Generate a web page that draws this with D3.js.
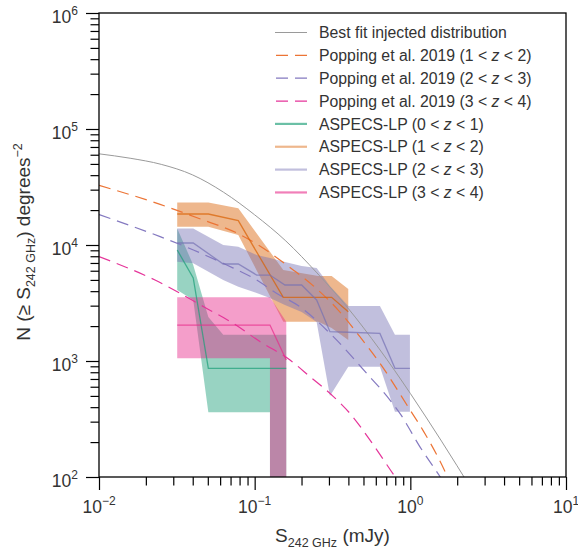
<!DOCTYPE html>
<html><head><meta charset="utf-8">
<script src="https://cdn.jsdelivr.net/npm/d3@7"></script>
<style>
body{margin:0;background:#fff}
svg{display:block}
text{font-family:"Liberation Sans",Arial,Helvetica,sans-serif;fill:#333}
</style>
</head><body>
<svg id="chart" width="578" height="551"></svg>
<script>
// ---------------- data ----------------
const xTickVals = [1e-2, 1e-1, 1e0, 1e1];
const xTickExp = ["\u22122", "\u22121", "0", "1"];
const yTickVals = [1e2, 1e3, 1e4, 1e5, 1e6];
const yTickExp = ["2", "3", "4", "5", "6"];

// Best fit injected distribution
const bestFitS = [0.0100, 0.01585, 0.02512, 0.03981, 0.0631, 0.100, 0.1585, 0.2512, 0.3981, 0.631, 1.000, 1.585, 2.512];
const bestFitN = [61100, 55980, 49550, 40270, 28510, 18200, 10840, 5750, 2850, 1274, 525, 204, 76];

// Popping et al. 2019
const pop12S = [0.01, 0.0247, 0.0435, 0.0805, 0.108, 0.161, 0.25, 0.344, 0.474, 0.647, 0.994, 1.211, 1.71, 1.9];
const pop12N = [32700, 22400, 17000, 12300, 9800, 6700, 4200, 2750, 1620, 930, 380, 250, 104, 75];
const pop23S = [0.01, 0.0247, 0.0404, 0.0661, 0.103, 0.138, 0.195, 0.320, 0.524, 0.740, 0.857, 1.153, 1.549, 1.75];
const pop23N = [18300, 11800, 9060, 6730, 4990, 3840, 2940, 1620, 783, 461, 354, 182, 101, 78];
const pop34S = [0.01, 0.0229, 0.0492, 0.0729, 0.1081, 0.1687, 0.2265, 0.3126, 0.409, 0.551, 0.796, 0.9];
const pop34N = [7940, 4990, 2840, 2110, 1470, 1020, 733, 509, 354, 208, 101, 80];

// ASPECS-LP bands (upper / median / lower)
const asp01S   = [0.0318, 0.0403, 0.0504, 0.0628, 0.1254, 0.1254, 0.1596];
const asp01Hi  = [13900, 6730, 2400, 1680, 1680, 1680, 1680];
const asp01Mid = [9060, 5200, 865, 865, 865, 865, 865];
const asp01Lo  = [4090, 3360, 361, 361, 361, 0, 0];

const asp12S   = [0.0318, 0.0504, 0.0785, 0.1527, 0.2562, 0.3122, 0.3993];
const asp12Hi  = [23200, 23200, 20700, 6090, 5400, 5400, 4180];
const asp12Mid = [18500, 18500, 16200, 3540, 3540, 3540, 2660];
const asp12Lo  = [14400, 14400, 12200, 2180, 2180, 1930, 1520];

const asp23S   = [0.0318, 0.0403, 0.0628, 0.0785, 0.1030, 0.1254, 0.1565, 0.2004, 0.2501, 0.3045, 0.3993, 0.6377, 0.7963, 0.994];
const asp23Hi  = [13900, 13900, 10000, 9670, 8200, 7730, 7140, 6590, 6340, 4430, 2980, 2980, 1680, 1680];
const asp23Mid = [10400, 10400, 6860, 6860, 5510, 5510, 4520, 4520, 3360, 1790, 1770, 1730, 865, 865];
const asp23Lo  = [7180, 6960, 4990, 4370, 3860, 3490, 3040, 2650, 2170, 499, 893, 893, 366, 366];

const asp34S   = [0.0318, 0.1254, 0.1254, 0.1596];
const asp34Hi  = [3540, 3540, 3540, 2180];
const asp34Mid = [2040, 2040, 2040, 1020];
const asp34Lo  = [1055, 1055, 0, 0];

const colGreen = "#1b9e77", colOrange = "#d95f02", colPurple = "#7570b3", colPink = "#e7298a";

// ---------------- layout ----------------
const svg = d3.select("#chart");
const L = 99, R = 566, T = 13, B = 477;
const x = d3.scaleLog().domain([1e-2, 1e1]).range([L, R]);
const y = d3.scaleLog().domain([1e2, 1e6]).range([B, T]);
const yv = v => y(Math.max(v, 1));

svg.append("defs").append("clipPath").attr("id", "clip")
  .append("rect").attr("x", L).attr("y", T).attr("width", R - L).attr("height", B - T);
const plot = svg.append("g").attr("clip-path", "url(#clip)");

const zip = (s, a, b, c) => s.map((v, i) => ({s: v, hi: a[i], mid: b ? b[i] : null, lo: c ? c[i] : null}));

const bands = [
  {d: zip(asp01S, asp01Hi, asp01Mid, asp01Lo), c: colGreen},
  {d: zip(asp12S, asp12Hi, asp12Mid, asp12Lo), c: colOrange},
  {d: zip(asp23S, asp23Hi, asp23Mid, asp23Lo), c: colPurple},
  {d: zip(asp34S, asp34Hi, asp34Mid, asp34Lo), c: colPink}
];
const area = d3.area().x(d => x(d.s)).y0(d => yv(d.lo)).y1(d => yv(d.hi));
bands.forEach(b => {
  plot.append("path").datum(b.d).attr("d", area)
    .attr("fill", b.c).attr("fill-opacity", 0.45).attr("stroke", "none");
});

const curve = d3.line().x(d => x(d.s)).y(d => yv(d.hi)).curve(d3.curveMonotoneX);
const straight = d3.line().x(d => x(d.s)).y(d => yv(d.mid));

plot.append("path").datum(zip(bestFitS, bestFitN)).attr("d", curve)
  .attr("fill", "none").attr("stroke", "#9a9a9a").attr("stroke-width", 1);

const pops = [
  {s: pop12S, n: pop12N, c: "#ec7435"},
  {s: pop23S, n: pop23N, c: "#8479c0"},
  {s: pop34S, n: pop34N, c: "#e5359a"}
];
pops.forEach(p => {
  plot.append("path").datum(zip(p.s, p.n)).attr("d", curve)
    .attr("fill", "none").attr("stroke", p.c).attr("stroke-width", 1.2)
    .attr("stroke-dasharray", "12,7");
});

bands.forEach(b => {
  plot.append("path").datum(b.d).attr("d", straight)
    .attr("fill", "none").attr("stroke", b.c).attr("stroke-opacity", 0.7).attr("stroke-width", 1.3);
});

// ---------------- axes ----------------
const minorX = [];
[1e-2, 1e-1, 1e0].forEach(dec => { for (let k = 2; k <= 9; k++) minorX.push(dec * k); });
const minorY = [];
[1e2, 1e3, 1e4, 1e5].forEach(dec => { for (let k = 2; k <= 9; k++) minorY.push(dec * k); });

const gx = svg.append("g").attr("transform", `translate(0,${B})`)
  .call(d3.axisBottom(x).tickValues(xTickVals).tickSize(13).tickFormat(""));
const gxm = svg.append("g").attr("transform", `translate(0,${B})`)
  .call(d3.axisBottom(x).tickValues(minorX).tickSize(8.5).tickFormat(""));
const gy = svg.append("g").attr("transform", `translate(${L},0)`)
  .call(d3.axisLeft(y).tickValues(yTickVals).tickSize(13).tickFormat(""));
const gym = svg.append("g").attr("transform", `translate(${L},0)`)
  .call(d3.axisLeft(y).tickValues(minorY).tickSize(8.5).tickFormat(""));
[gx, gxm, gy, gym].forEach(g => {
  g.select(".domain").remove();
  g.selectAll("line").attr("stroke", "#000").attr("stroke-width", 1.2);
});

// frame
svg.append("rect").attr("x", L).attr("y", T).attr("width", R - L).attr("height", B - T)
  .attr("fill", "none").attr("stroke", "#000").attr("stroke-width", 1.3);

// tick labels
xTickVals.forEach((v, i) => {
  const t = svg.append("text").attr("x", x(v)).attr("y", 513).attr("text-anchor", "middle")
    .attr("font-size", 17.5);
  t.append("tspan").text("10");
  t.append("tspan").attr("font-size", 12).attr("dy", -8).text(xTickExp[i]);
});
yTickVals.forEach((v, i) => {
  const t = svg.append("text").attr("x", 78).attr("y", y(v) + 10).attr("text-anchor", "end")
    .attr("font-size", 17.5);
  t.append("tspan").text("10");
  t.append("tspan").attr("font-size", 12).attr("dy", -8).text(yTickExp[i]);
});

// axis labels
const xl = svg.append("text").attr("x", (L + R) / 2).attr("y", 542).attr("text-anchor", "middle")
  .attr("font-size", 19);
xl.append("tspan").text("S");
xl.append("tspan").attr("font-size", 12.5).attr("dy", 4.5).text("242 GHz");
xl.append("tspan").attr("dy", -4.5).text(" (mJy)");

const yl = svg.append("text").attr("transform", `translate(30,${(T + B) / 2 - 3}) rotate(-90)`)
  .attr("text-anchor", "middle").attr("font-size", 19);
yl.append("tspan").text("N (\u2265 S");
yl.append("tspan").attr("font-size", 12.5).attr("dy", 4.5).text("242 GHz");
yl.append("tspan").attr("dy", -4.5).text(") degrees");
yl.append("tspan").attr("font-size", 12.5).attr("dy", -8).text("\u22122");

// ---------------- legend ----------------
const legendItems = [
  {label: ["Best fit injected distribution"], c: "#9a9a9a", w: 1, dash: null, op: 1},
  {label: ["Popping et al. 2019 (1 < ", "z", " < 2)"], c: "#ec7435", w: 1.3, dash: "12,7", op: 1},
  {label: ["Popping et al. 2019 (2 < ", "z", " < 3)"], c: "#8479c0", w: 1.3, dash: "12,7", op: 1},
  {label: ["Popping et al. 2019 (3 < ", "z", " < 4)"], c: "#e5359a", w: 1.3, dash: "12,7", op: 1},
  {label: ["ASPECS-LP (0 < ", "z", " < 1)"], c: colGreen, w: 2.2, dash: null, op: 0.65},
  {label: ["ASPECS-LP (1 < ", "z", " < 2)"], c: colOrange, w: 2.2, dash: null, op: 0.45},
  {label: ["ASPECS-LP (2 < ", "z", " < 3)"], c: colPurple, w: 2.2, dash: null, op: 0.45},
  {label: ["ASPECS-LP (3 < ", "z", " < 4)"], c: colPink, w: 2.2, dash: null, op: 0.6}
];
const lg = svg.append("g");
legendItems.forEach((it, i) => {
  const yy = 32.5 + i * 22.85;
  const ln = lg.append("line").attr("x1", 275).attr("x2", 307).attr("y1", yy).attr("y2", yy)
    .attr("stroke", it.c).attr("stroke-width", it.w).attr("stroke-opacity", it.op);
  if (it.dash) ln.attr("stroke-dasharray", "12,7").attr("stroke-dashoffset", -1);
  const t = lg.append("text").attr("x", 319).attr("y", yy + 5.6).attr("font-size", 15.8);
  it.label.forEach((s, j) => {
    const sp = t.append("tspan").text(s);
    if (j === 1) sp.attr("font-style", "italic");
  });
});
</script>
</body></html>
